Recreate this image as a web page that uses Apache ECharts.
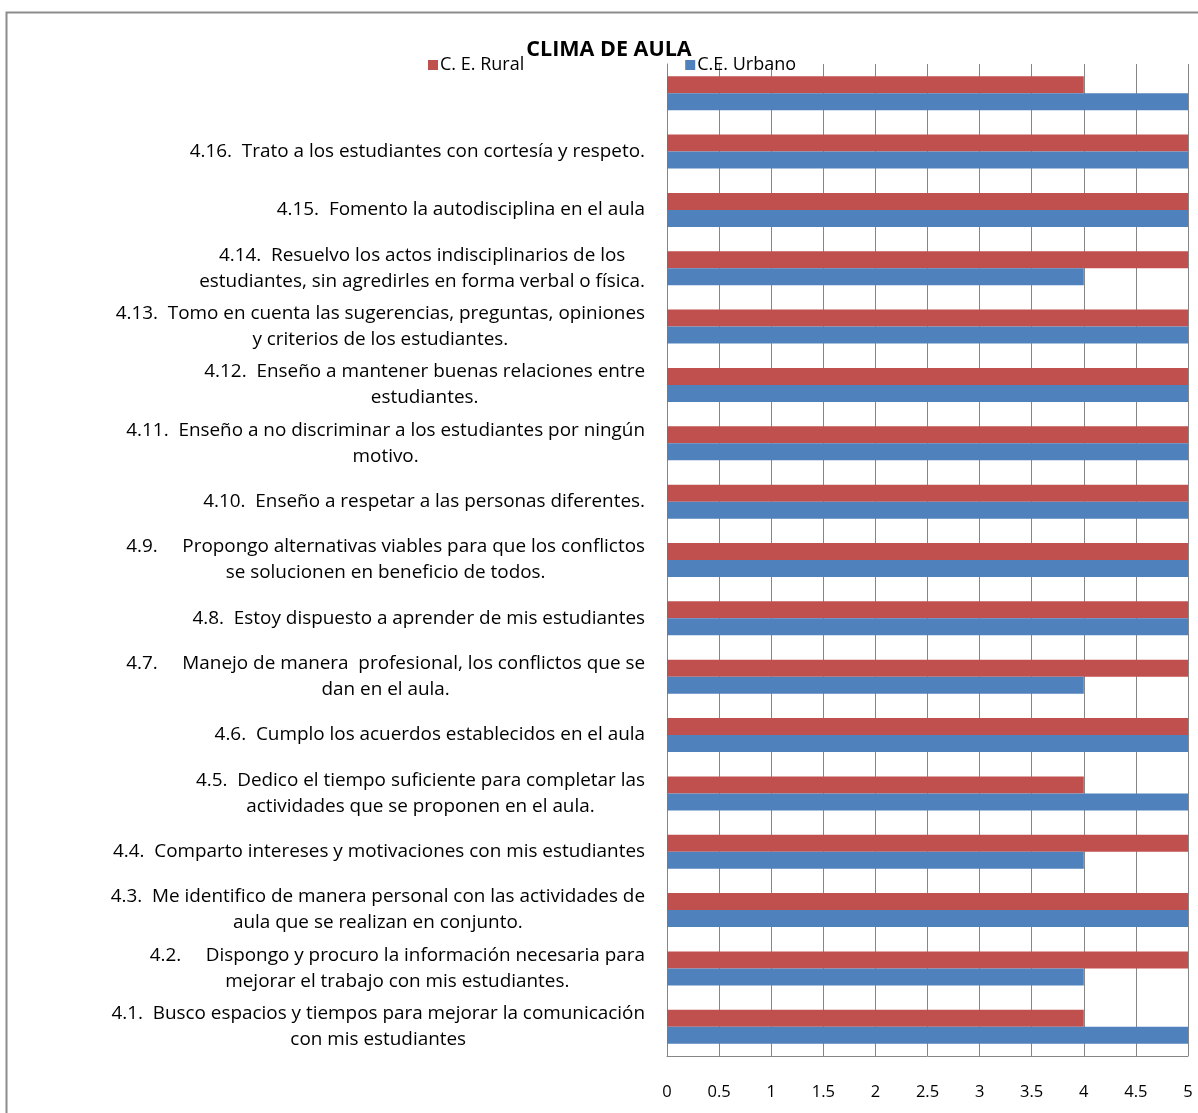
<!DOCTYPE html>
<html>
<head>
<meta charset="utf-8">
<title>Clima de aula</title>
<script src="https://cdn.jsdelivr.net/npm/echarts@6/dist/echarts.min.js"></script>
<style>
  html, body { margin: 0; padding: 0; background: #fff; }
  #chart { width: 1198px; height: 1113px; }
</style>
</head>
<body>
<div id="chart"></div>
<script>
// categorias, de abajo hacia arriba
var preguntas = [
  "4.1.  Busco espacios y tiempos para mejorar la comunicación\ncon mis estudiantes",
  "4.2.     Dispongo y procuro la información necesaria para\nmejorar el trabajo con mis estudiantes.",
  "4.3.  Me identifico de manera personal con las actividades de\naula que se realizan en conjunto.",
  "4.4.  Comparto intereses y motivaciones con mis estudiantes",
  "4.5.  Dedico el tiempo suficiente para completar las\nactividades que se proponen en el aula.",
  "4.6.  Cumplo los acuerdos establecidos en el aula",
  "4.7.     Manejo de manera  profesional, los conflictos que se\ndan en el aula.",
  "4.8.  Estoy dispuesto a aprender de mis estudiantes",
  "4.9.     Propongo alternativas viables para que los conflictos\nse solucionen en beneficio de todos.",
  "4.10.  Enseño a respetar a las personas diferentes.",
  "4.11.  Enseño a no discriminar a los estudiantes por ningún\nmotivo.",
  "4.12.  Enseño a mantener buenas relaciones entre\nestudiantes.",
  "4.13.  Tomo en cuenta las sugerencias, preguntas, opiniones\ny criterios de los estudiantes.",
  "4.14.  Resuelvo los actos indisciplinarios de los\nestudiantes, sin agredirles en forma verbal o física.",
  "4.15.  Fomento la autodisciplina en el aula",
  "4.16.  Trato a los estudiantes con cortesía y respeto.",
  ""
];
var rural  = [4, 5, 5, 5, 4, 5, 5, 5, 5, 5, 5, 5, 5, 5, 5, 5, 4];
var urbano = [5, 4, 5, 4, 5, 5, 4, 5, 5, 5, 5, 5, 5, 4, 5, 5, 5];
var ticks = ["0", "0.5", "1", "1.5", "2", "2.5", "3", "3.5", "4", "4.5", "5"];

var fuente = "'Open Sans', sans-serif";
var chart = echarts.init(document.getElementById("chart"));

chart.setOption({
  backgroundColor: "#fff",
  animation: false,
  textStyle: { fontFamily: fuente },
  title: {
    text: "CLIMA DE AULA",
    left: 604, top: 34, textAlign: "center",
    textStyle: { fontSize: 21.5, fontWeight: "bold", color: "#000", fontFamily: fuente }
  },
  legend: {
    data: ["C. E. Rural", "C.E. Urbano"],
    left: 423, top: 51,
    itemGap: 161, itemWidth: 10, itemHeight: 10,
    icon: "rect",
    textStyle: { fontSize: 18, color: "#000", padding: [0, 0, 0, -3] }
  },
  graphic: [{
    type: "rect",
    shape: { x: 6.5, y: 12.5, width: 1300, height: 1200 },
    style: { fill: null, stroke: "#8c8c8c", lineWidth: 2 },
    silent: true
  }],
  grid: { left: 667, right: 10, top: 64, bottom: 57 },
  xAxis: {
    type: "value", min: 0, max: 5, interval: 0.5,
    axisLine: { show: true, lineStyle: { color: "#868686" } },
    axisTick: { show: false },
    splitLine: { show: true, lineStyle: { color: "#868686", width: 1 } },
    axisLabel: {
      color: "#000", fontSize: 16.5, margin: 28,
      formatter: function (v) { return ticks[Math.round(v * 2)]; }
    }
  },
  yAxis: {
    type: "category", data: preguntas,
    axisLine: { show: true, lineStyle: { color: "#868686" } },
    axisTick: { show: false },
    splitLine: { show: false },
    axisLabel: {
      interval: 0, margin: 22, color: "#000", fontSize: 18.9, lineHeight: 26,
      formatter: function (v) {
        return v.split("\n").map(function (l) { return "{c|" + l + "}"; }).join("\n");
      },
      rich: { c: { align: "center", fontSize: 18.9, lineHeight: 26, color: "#000" } }
    }
  },
  series: [
    {
      name: "C. E. Rural", type: "bar", data: rural,
      itemStyle: { color: "#c0504d" },
      barWidth: 17, barGap: "0%"
    },
    {
      name: "C.E. Urbano", type: "bar", data: urbano,
      itemStyle: { color: "#4f81bd" },
      barWidth: 17, barGap: "0%"
    }
  ]
});
</script>
</body>
</html>
